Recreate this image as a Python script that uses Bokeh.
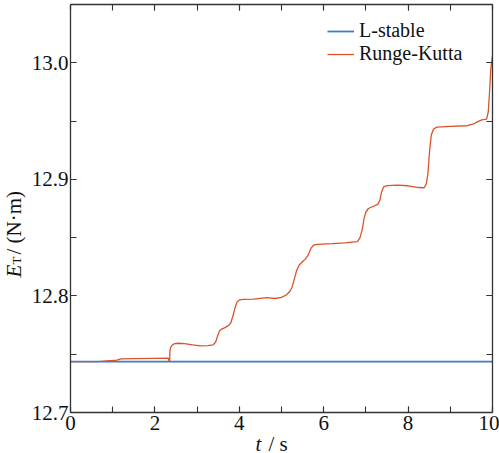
import math

from bokeh.embed import file_html
from bokeh.models import (CustomJSTickFormatter, GridBox, Label, Legend, LegendItem,
                          LinearAxis, PrintfTickFormatter, Range1d, SingleIntervalTicker)
from bokeh.plotting import figure
from bokeh.resources import INLINE

# Total energy E_T (N·m) over time t (s) for the two integration schemes
t_lstable = [0.0, 10.0]
e_lstable = [12.7436, 12.7436]

t_rk = [0.00, 0.66, 0.80, 1.00, 1.10, 1.20, 1.50, 2.00, 2.32, 2.335, 2.35, 2.355,
        2.37, 2.40, 2.45, 2.55, 2.70, 2.90, 3.07, 3.25, 3.38, 3.44, 3.48, 3.53,
        3.58, 3.65, 3.74, 3.80, 3.85, 3.90, 3.95, 4.00, 4.10, 4.34, 4.65, 4.85,
        5.00, 5.12, 5.20, 5.25, 5.30, 5.36, 5.42, 5.50, 5.57, 5.63, 5.70, 5.76,
        5.85, 6.20, 6.50, 6.80, 6.86, 6.91, 6.96, 7.00, 7.06, 7.15, 7.28, 7.33,
        7.37, 7.42, 7.50, 7.75, 8.00, 8.25, 8.38, 8.43, 8.47, 8.51, 8.55, 8.60,
        8.68, 9.00, 9.40, 9.55, 9.65, 9.75, 9.86, 9.90, 9.93, 9.96, 10.00]
e_rk = [12.7436, 12.7436, 12.7441, 12.7446, 12.7450, 12.7460, 12.7463, 12.7465,
        12.7466, 12.7442, 12.7445, 12.7520, 12.7555, 12.7575, 12.7588, 12.7594,
        12.7590, 12.7580, 12.7572, 12.7573, 12.7580, 12.7605, 12.7650, 12.7700,
        12.7716, 12.7726, 12.7745, 12.7770, 12.7830, 12.7900, 12.7950, 12.7966,
        12.7970, 12.7972, 12.7985, 12.7978, 12.7988, 12.8010, 12.8040, 12.8075,
        12.8140, 12.8220, 12.8265, 12.8295, 12.8318, 12.8350, 12.8410, 12.8435,
        12.8443, 12.8448, 12.8455, 12.8466, 12.8500, 12.8565, 12.8670, 12.8720,
        12.8750, 12.8765, 12.8785, 12.8820, 12.8890, 12.8935, 12.8947, 12.8950,
        12.8945, 12.8930, 12.8928, 12.8960, 12.9050, 12.9250, 12.9380, 12.9430,
        12.9448, 12.9455, 12.9460, 12.9475, 12.9495, 12.9510, 12.9517, 12.9580,
        12.9750, 12.9950, 13.0060]

x_start, x_end = 0, 10
y_start, y_end = 12.7, 13.05

WIDTH, HEIGHT = 499, 453
FONT = "Liberation Serif"
AXIS_COLOR = "#333333"
TEXT_COLOR = "#111111"
BLUE = "#3f7dc6"
RED = "#d9532b"

p = figure(width=WIDTH, height=HEIGHT, output_backend="svg", toolbar_location=None,
           x_range=Range1d(x_start, x_end), y_range=Range1d(y_start, y_end),
           min_border_left=70, min_border_right=7, min_border_top=4, min_border_bottom=41,
           x_axis_type=None, y_axis_type=None)
p.grid.visible = False
p.outline_line_color = None
p.background_fill_color = "white"
p.border_fill_color = "white"


def make_axis(interval, show_labels):
    ax = LinearAxis(ticker=SingleIntervalTicker(interval=interval, num_minor_ticks=2))
    ax.axis_line_color = AXIS_COLOR
    ax.axis_line_width = 1.3
    ax.major_tick_in = 6
    ax.major_tick_out = 0
    ax.minor_tick_in = 6
    ax.minor_tick_out = 0
    ax.major_tick_line_color = AXIS_COLOR
    ax.minor_tick_line_color = AXIS_COLOR
    ax.major_tick_line_width = 1.1
    ax.minor_tick_line_width = 1.1
    ax.major_label_text_font = FONT
    ax.major_label_text_font_size = "21px"
    ax.major_label_text_color = TEXT_COLOR
    if not show_labels:
        # tick marks only on the top and right edges of the box
        ax.formatter = CustomJSTickFormatter(code="return ''")
        ax.major_label_standoff = 0
    return ax


x_axis = make_axis(2, True)
x_axis.major_label_standoff = 3
y_axis = make_axis(0.1, True)
y_axis.major_label_standoff = 2
y_axis.formatter = PrintfTickFormatter(format="%.1f")
p.add_layout(x_axis, "below")
p.add_layout(y_axis, "left")
p.add_layout(make_axis(2, False), "above")
p.add_layout(make_axis(0.1, False), "right")

r_blue = p.line(t_lstable, e_lstable, line_color=BLUE, line_width=1.8)
r_red = p.line(t_rk, e_rk, line_color=RED, line_width=1.3)

legend = Legend(items=[LegendItem(label="L-stable", renderers=[r_blue]),
                       LegendItem(label="Runge-Kutta", renderers=[r_red])],
                location=(257, 347), padding=0, margin=0, spacing=0,
                glyph_width=27, glyph_height=22, label_height=22, label_standoff=5,
                label_text_font=FONT, label_text_font_size="20px",
                label_text_color=TEXT_COLOR,
                background_fill_alpha=0, border_line_color=None)
p.add_layout(legend)

# Transparent layer over the whole canvas carrying the axis titles, so the
# italic symbol and its subscript can sit in the margins next to the axes.
titles = figure(width=WIDTH, height=HEIGHT, output_backend="svg", toolbar_location=None,
                x_range=Range1d(0, WIDTH), y_range=Range1d(0, HEIGHT),
                min_border=0, x_axis_type=None, y_axis_type=None)
titles.min_border_left = titles.min_border_right = 0
titles.min_border_top = titles.min_border_bottom = 0
titles.outline_line_color = None
titles.background_fill_alpha = 0
titles.border_fill_alpha = 0
# keep this layer's frame independent of the chart's frame
for fig in (p, titles):
    if hasattr(fig, "frame_align"):
        fig.frame_align = False

label_style = dict(text_font=FONT, text_color=TEXT_COLOR,
                   text_baseline="alphabetic", text_align="left")
titles.add_layout(Label(x=13, y=176, text="E", angle=math.pi / 2, text_font_size="21px",
                        text_font_style="italic", **label_style))
titles.add_layout(Label(x=16, y=189, text="T", angle=math.pi / 2, text_font_size="13px",
                        **label_style))
titles.add_layout(Label(x=13, y=199, text="/ (N·m)", angle=math.pi / 2,
                        text_font_size="21px", **label_style))
titles.add_layout(Label(x=255, y=10, text="t", text_font_size="21px",
                        text_font_style="italic", **label_style))
titles.add_layout(Label(x=268, y=10, text="/ s", text_font_size="21px", **label_style))

layout = GridBox(children=[(p, 0, 0), (titles, 0, 0)])

open("out.html", "w").write(file_html(layout, INLINE))
